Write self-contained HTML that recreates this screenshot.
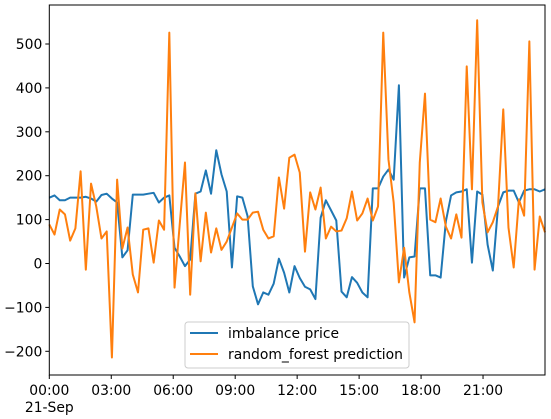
<!DOCTYPE html>
<html><head><meta charset="utf-8"><style>
body{margin:0;background:#fff;}
svg{display:block;font-family:"DejaVu Sans","Liberation Sans",sans-serif;}
</style></head><body>
<svg id="chart" width="551" height="419" viewBox="0 0 551 419" xmlns="http://www.w3.org/2000/svg">
<rect x="0" y="0" width="551" height="419" fill="#fff"/>
<g id="plot"></g>
<g id="axes"></g>
<g id="legend">
  <rect x="185" y="322" width="224" height="46" rx="3" fill="#fff" fill-opacity="0.8" stroke="#ccc"/>
  <line x1="190" y1="333" x2="218" y2="333" stroke="#1f77b4" stroke-width="2"/>
  <text x="228" y="338" font-size="13.9" fill="#000">imbalance price</text>
  <line x1="190" y1="354" x2="218" y2="354" stroke="#ff7f0e" stroke-width="2"/>
  <text x="228" y="359" font-size="13.9" fill="#000">random_forest prediction</text>
</g>
</svg>
<script>
const imbalance = [150,155,144,144,150,150,150,152,148,141,156,159,148,139,14,30,157,157,157,159,161,139,150,155,36,16,-6,9,159,164,212,159,258,
203,164,-9,153,150,108,-52,-93,-66,-71,-46,11,-21,-66,-6,-33,-53,-59,-81,104,144,121,98,-64,-77,-31,-44,-66,-77,171,
171,198,214,191,406,-32,14,16,171,171,-27,-27,-32,96,155,162,164,169,2,164,157,43,-16,130,162,166,166,139,166,169,169,164,169];
const prediction = [89,66,123,112,52,80,210,-14,182,130,57,73,-214,191,34,82,-25,-66,77,80,2,98,77,526,-55,90,230,-71,160,5,116,25,80,
31,50,82,114,100,100,116,118,77,57,62,196,125,241,248,207,27,162,123,173,57,84,73,75,103,164,98,114,148,98,130,
526,237,139,-43,36,-66,-134,230,387,100,94,148,84,57,112,59,449,169,554,139,71,94,130,351,82,-9,146,109,506,-14,107,71];
const yTicks = [-200,-100,0,100,200,300,400,500];
const xTickHours = [0,3,6,9,12,15,18,21];
const xTickLabels = ["00:00","03:00","06:00","09:00","12:00","15:00","18:00","21:00"];

const L=49.3,R=545,T=5,B=375;
function xScale(h){return L+(h/24)*(R-L);}
function xIndex(i,n){return L+(i/(n-1))*(R-L);}
function yScale(v){return 263.5 - v*0.439;}
const NS="http://www.w3.org/2000/svg";
const plot=document.getElementById('plot'), axes=document.getElementById('axes');
function mk(tag,attrs,parent){const e=document.createElementNS(NS,tag);for(const k in attrs)e.setAttribute(k,attrs[k]);parent.appendChild(e);return e;}

function series(data,color,name){
  const d=data.map((v,i)=>(i?'L':'M')+xIndex(i,data.length).toFixed(2)+','+yScale(v).toFixed(2)).join(' ');
  const p=mk('path',{d:d,fill:'none',stroke:color,'stroke-width':2,'stroke-linejoin':'round'},plot);
  
  
}
series(imbalance,'#1f77b4','imbalance-price-line');
series(prediction,'#ff7f0e','random-forest-prediction-line');

const frame=mk('rect',{x:L,y:T,width:R-L,height:B-T,fill:'none',stroke:'#000','stroke-width':1},axes);



yTicks.forEach(v=>{
  const y=yScale(v);
  const t=mk('line',{x1:L-4,y1:y,x2:L,y2:y,stroke:'#000'},axes);
  
  
  const tx=mk('text',{x:L-7,y:y+5,'font-size':13.9,'text-anchor':'end',fill:'#000'},axes);
  tx.textContent=(v<0?'\u2212'+(-v):String(v));
  
  
});
xTickHours.forEach((h,i)=>{
  const x=xScale(h);
  const t=mk('line',{x1:x,y1:B,x2:x,y2:B+4,stroke:'#000'},axes);
  
  
  const tx=mk('text',{x:x,y:B+20,'font-size':13.9,'text-anchor':'middle',fill:'#000'},axes);
  tx.textContent=xTickLabels[i];
  
  
});
const dl=mk('text',{x:xScale(0),y:B+37,'font-size':13.9,'text-anchor':'middle',fill:'#000'},axes);
dl.textContent='21-Sep';


</script>
</body></html>
